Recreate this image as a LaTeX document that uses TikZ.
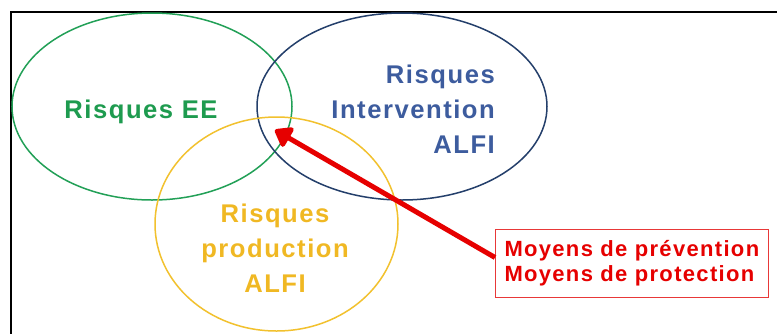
\documentclass[tikz,border=0pt]{standalone}
\usepackage{fontspec}
\setmainfont{Liberation Sans}[LetterSpace=6]
\usetikzlibrary{shapes.geometric,arrows.meta}
\definecolor{eegreen}{HTML}{22A057}
\definecolor{eetext}{HTML}{1E9B4F}
\definecolor{navyline}{HTML}{243F6B}
\definecolor{bluetext}{HTML}{3D5C9E}
\definecolor{yline}{HTML}{F2C12E}
\definecolor{ytext}{HTML}{F0B823}
\definecolor{redarrow}{HTML}{E60000}
\definecolor{redbox}{HTML}{E83838}
\tikzset{
  riskellipse/.style={ellipse, draw, line width=1.5pt, inner sep=0pt},
  risklabel/.style={font=\fontsize{25.6}{35}\selectfont\bfseries, inner sep=0pt},
  meansbox/.style={draw=redbox, line width=1pt, fill=white, align=left,
    font=\fontsize{22}{25}\selectfont\bfseries, text=redarrow,
    inner xsep=9pt, inner ysep=11pt, minimum height=68pt},
  meansarrow/.style={draw=redarrow, line width=5pt,
    -{Triangle[length=18pt,width=25pt,round]}}
}
\begin{document}
\begin{tikzpicture}[x=1pt,y=-1pt]
\useasboundingbox (0,0) rectangle (777,333);
\fill[white] (0,0) rectangle (777,333);
\draw[line width=2.5pt] (11,334) -- (11,12) -- (778,12);
% ellipses
\node[riskellipse, draw=eegreen, minimum width=280pt, minimum height=187pt] (ee) at (152,106.5) {};
\node[riskellipse, draw=navyline, minimum width=290pt, minimum height=187pt] (int) at (402,106.5) {};
\node[riskellipse, draw=yline, minimum width=243pt, minimum height=214pt] (prod) at (276.5,224) {};
% labels
\node[risklabel, text=eetext, anchor=base] (eelabel) at (141,118) {Risques EE};
\node[risklabel, text=bluetext, align=right, anchor=north east] (intlabel) at (495,65) {Risques\\Intervention\\ALFI};
\node[risklabel, text=ytext, align=center, anchor=north] (prodlabel) at (275,204) {Risques\\production\\ALFI};
% box and arrow
\node[meansbox, anchor=north west] (means) at (495,229) {Moyens de prévention\\Moyens de protection};
\coordinate (tip) at (275,130);
\draw[meansarrow] ([yshift=6pt]means.west) -- (tip);
\end{tikzpicture}
\end{document}
